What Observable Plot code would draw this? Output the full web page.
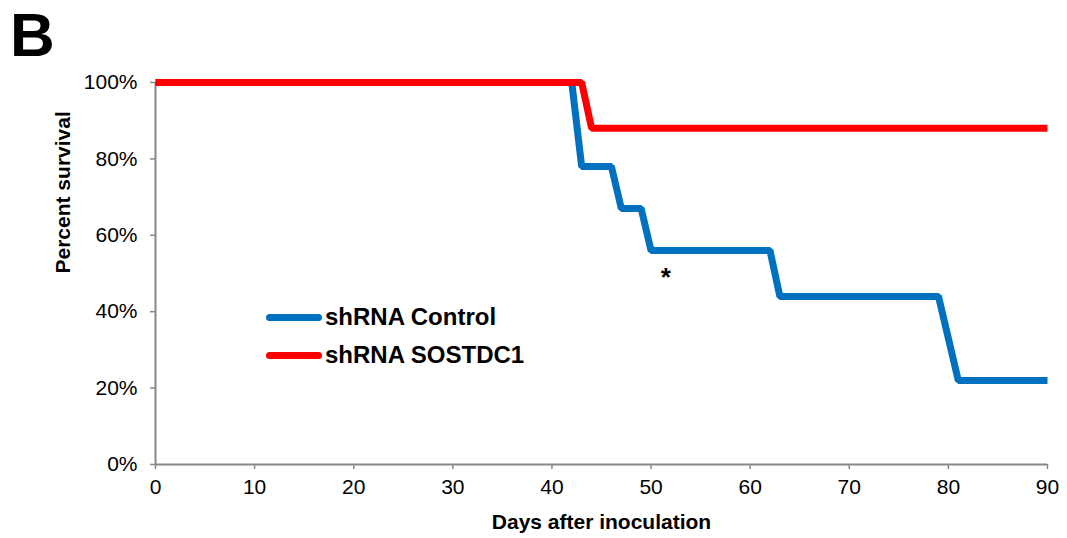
<!DOCTYPE html>
<html>
<head>
<meta charset="utf-8">
<script src="https://cdn.jsdelivr.net/npm/d3@7"></script>
<script src="https://cdn.jsdelivr.net/npm/@observablehq/plot@0.6"></script>
<style>
  html, body { margin: 0; padding: 0; background: #fff; }
  #wrap { position: relative; width: 1067px; height: 538px; font-family: "Liberation Sans", Arial, sans-serif; }
  #wrap svg { position: absolute; left: 0; top: 0; }
  #panel { position: absolute; left: 10px; top: 4px; font-size: 62px; font-weight: bold; line-height: 1; }
  .leg { position: absolute; left: 266px; display: flex; align-items: center; font-size: 24px; font-weight: bold; height: 30px; }
  .leg .sw { display: inline-block; width: 56px; height: 7px; border-radius: 4px; margin-right: 3px; }
</style>
</head>
<body>
<div id="wrap">
  <div id="panel">B</div>
</div>
<script>
const seriesNames = ["shRNA Control", "shRNA SOSTDC1"];
const seriesColors = ["#0070C0", "#FF0000"];
const controlDays = [0, 42, 43, 46, 47, 49, 50, 62, 63, 79, 81, 90];
const controlSurvival = [100, 100, 78, 78, 67, 67, 56, 56, 44, 44, 22, 22];
const sostdc1Days = [0, 43, 44, 90];
const sostdc1Survival = [100, 100, 88, 88];
const xTicks = [0, 10, 20, 30, 40, 50, 60, 70, 80, 90];
const yTicks = [0, 20, 40, 60, 80, 100];
const xTitle = "Days after inoculation";
const yTitle = "Percent survival";
const annotations = [{day: 51.5, pct: 49, text: "*"}];

const control = controlDays.map((d, i) => ({day: d, pct: controlSurvival[i]}));
const sostdc1 = sostdc1Days.map((d, i) => ({day: d, pct: sostdc1Survival[i]}));

const chart = Plot.plot({
  width: 1067,
  height: 538,
  marginLeft: 155,
  marginRight: 20,
  marginTop: 82,
  marginBottom: 74,
  style: {fontFamily: "'Liberation Sans', Arial, sans-serif", fontSize: "20px", color: "#000", background: "transparent"},
  x: {domain: [0, 90]},
  y: {domain: [0, 100]},
  marks: [
    Plot.axisY({ticks: yTicks, tickFormat: d => d + "%", tickSize: 5, tickPadding: 13, stroke: "#888", strokeWidth: 1.5, fill: "#000", fontSize: 21, label: null}),
    Plot.axisX({ticks: xTicks, tickSize: 5, tickPadding: 10, stroke: "#888", strokeWidth: 1.5, fill: "#000", fontSize: 21, label: null}),
    Plot.ruleX([0], {stroke: "#888", strokeWidth: 2}),
    Plot.ruleY([0], {stroke: "#888", strokeWidth: 2}),
    Plot.line(control, {x: "day", y: "pct", stroke: seriesColors[0], strokeWidth: 7, strokeLinejoin: "miter", strokeLinecap: "butt"}),
    Plot.line(sostdc1, {x: "day", y: "pct", stroke: seriesColors[1], strokeWidth: 7, strokeLinejoin: "miter", strokeLinecap: "butt"}),
    Plot.text(annotations, {x: "day", y: "pct", text: "text", fontSize: 26, fontWeight: "bold", fill: "#000"}),
    Plot.text([xTitle], {frameAnchor: "bottom", dy: 58, lineAnchor: "middle", fontSize: 21, fontWeight: "bold", fill: "#000"}),
    Plot.text([yTitle], {frameAnchor: "left", dx: -92, rotate: -90, lineAnchor: "middle", fontSize: 21, fontWeight: "bold", fill: "#000"})
  ]
});
const wrap = document.getElementById("wrap");
wrap.appendChild(chart);
const legendTops = [302, 340];
seriesNames.forEach((name, i) => {
  const row = document.createElement("div");
  row.className = "leg";
  row.style.top = legendTops[i] + "px";
  const sw = document.createElement("span");
  sw.className = "sw";
  sw.style.background = seriesColors[i];
  row.appendChild(sw);
  row.appendChild(document.createTextNode(name));
  wrap.appendChild(row);
});
</script>
</body>
</html>
